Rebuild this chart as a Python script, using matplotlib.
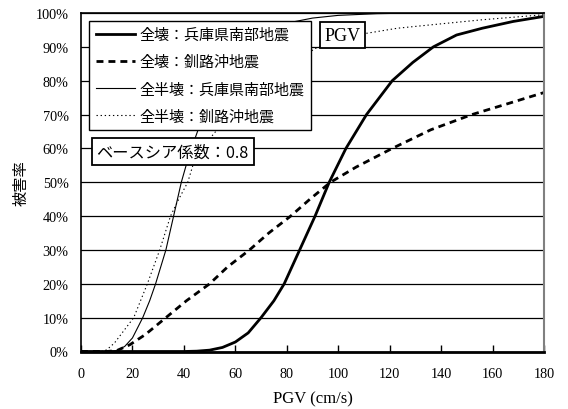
import matplotlib
matplotlib.use("Agg")
import matplotlib.pyplot as plt
from matplotlib.ticker import FixedLocator

# --------------------
# Data, damage ratio in %
# --------------------
hyogo_total_x = [0, 40, 45, 50, 55, 60, 65, 70, 75, 79, 85, 91, 96.5, 103, 111, 121, 129, 137, 146, 156, 168, 180]
hyogo_total_y = [0, 0, 0.1, 0.4, 1.2, 2.8, 5.5, 10, 15, 20, 30, 40, 50, 60, 70, 80, 85.4, 90, 93.5, 95.5, 97.5, 99]

kushiro_total_x = [0, 10, 14, 19, 25, 33, 41, 50, 57, 65.5, 73, 81.5, 89, 97, 107, 121, 136, 152, 165, 180]
kushiro_total_y = [0, 0, 0.3, 2, 5, 10, 15, 20, 25, 30, 35, 40, 45, 50, 54.5, 60, 65.5, 70, 73, 76.5]

hyogo_half_x = [0, 10, 14, 17, 20, 24, 26.7, 29, 31, 33, 36, 39, 42, 46, 50, 55, 60, 70, 80, 90, 100, 115, 130, 180]
hyogo_half_y = [0, 0, 0.3, 1.5, 4, 10, 15, 20, 25, 30, 40, 50, 58, 66.5, 73, 80, 86, 93.5, 97, 98.5, 99.3, 99.8, 100, 100]

kushiro_half_x = [0, 8, 10, 13, 16, 20.5, 25.8, 30.6, 34.8, 38, 41.5, 43.5, 48, 54, 60, 70, 80, 91, 100, 111, 123, 136, 156, 180]
kushiro_half_y = [0, 0, 0.5, 2.5, 5.5, 10, 20, 30, 40, 45, 50, 55, 61, 66.5, 71, 78, 84, 89.5, 92, 94, 95.5, 96.5, 98, 99.5]

labels = ["全壊：兵庫県南部地震", "全壊：釧路沖地震", "全半壊：兵庫県南部地震", "全半壊：釧路沖地震"]
x_ticks = [0, 20, 40, 60, 80, 100, 120, 140, 160, 180]
y_ticks = [0, 10, 20, 30, 40, 50, 60, 70, 80, 90, 100]

SERIF = "Liberation Serif"
plt.rcParams["font.family"] = ["Noto Sans CJK JP", "DejaVu Sans"]

# --------------------
# Figure
# --------------------
fig = plt.figure(figsize=(5.68, 4.10), dpi=100)
ax = fig.add_axes([81 / 568, 1 - 352.5 / 410, (544 - 81) / 568, (352.5 - 14) / 410])

ax.plot(hyogo_total_x, hyogo_total_y, color="black", lw=2.0, label=labels[0])
ax.plot(kushiro_total_x, kushiro_total_y, color="black", lw=2.0, dashes=(2.5, 1.8), label=labels[1])
ax.plot(hyogo_half_x, hyogo_half_y, color="black", lw=0.8, label=labels[2])
ax.plot(kushiro_half_x, kushiro_half_y, color="black", lw=0.8, linestyle=(0, (1.2, 2.5)), label=labels[3])

ax.set_xlim(0, 180)
ax.set_ylim(0, 100)
ax.xaxis.set_major_locator(FixedLocator(x_ticks))
ax.yaxis.set_major_locator(FixedLocator(y_ticks))
ax.set_xticklabels([str(v) for v in x_ticks], family=SERIF, fontsize=10.3)
ax.set_yticklabels([f"{v}%" for v in y_ticks], family=SERIF, fontsize=10.3)
ax.tick_params(axis="x", direction="in", length=5, width=1, pad=11)
ax.tick_params(axis="y", length=0, pad=9)
ax.yaxis.grid(True, color="black", lw=0.9)
ax.set_axisbelow(True)

for side in ["left", "top"]:
    ax.spines[side].set_linewidth(1.2)
ax.spines["bottom"].set_linewidth(2.0)
ax.spines["right"].set_color("#808080")
ax.spines["right"].set_linewidth(1.5)

ax.set_xlabel("PGV (cm/s)", family=SERIF, fontsize=12, labelpad=8)
ax.set_ylabel("被害率", fontsize=11, labelpad=4)

leg = ax.legend(loc="upper left", bbox_to_anchor=(89 / 568, 1 - 22 / 410),
                bbox_transform=fig.transFigure, borderaxespad=0, fancybox=False,
                edgecolor="black", framealpha=1, fontsize=10.8, handlelength=2.6,
                handletextpad=0.3, borderpad=0.45, labelspacing=0.86)
leg.get_frame().set_linewidth(1.0)

ax.text(6.0, 59.0, "ベースシア係数：0.8", fontsize=11.7, ha="left", va="center", zorder=6,
        bbox=dict(boxstyle="square,pad=0.3", fc="white", ec="black", lw=1.3))
ax.text(101.7, 93.5, "PGV", family=SERIF, fontsize=13, ha="center", va="center", zorder=6,
        bbox=dict(boxstyle="square,pad=0.25", fc="white", ec="black", lw=1.3))

fig.savefig("out.png", dpi=100)
